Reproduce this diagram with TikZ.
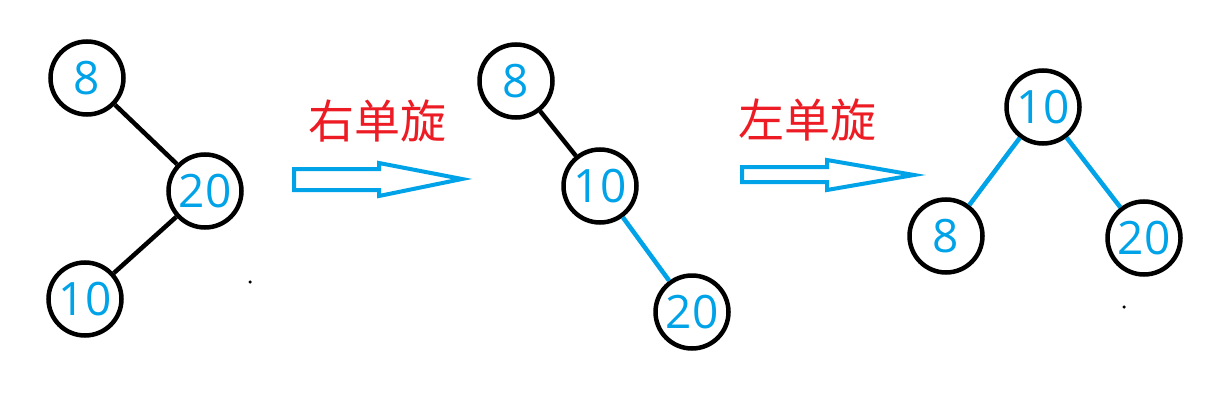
\documentclass[tikz,border=0pt]{standalone}
\usepackage{fontspec}
\setmainfont{Open Sans}
\newfontfamily\cjkfont{Noto Sans CJK SC}
\definecolor{pblue}{HTML}{00A2E8}
\definecolor{pred}{HTML}{ED1C24}
\begin{document}
\begin{tikzpicture}[x=1pt,y=-1pt,
  tnode/.style={circle,draw=black,line width=4.5pt,minimum size=73pt,inner sep=0pt,
    font=\fontsize{46}{46}\selectfont,text=pblue},
  blk/.style={draw=black,line width=4.5pt},
  blu/.style={draw=pblue,line width=4.5pt},
  hollowarrow/.style={draw=pblue,line width=4pt,fill=white,line join=miter},
  lbl/.style={font=\cjkfont\fontsize{46}{46}\selectfont,text=pred,inner sep=0pt},
  speck/.style={fill=black,circle,inner sep=0pt,minimum size=3.5pt}]
\useasboundingbox (0,0) rectangle (1212,420);
\fill[white] (0,0) rectangle (1212,420);
% tree 1
\node[tnode] (a8) at (87,78) {8};
\node[tnode] (a20) at (205,191) {20};
\node[tnode] (a10) at (85,299) {10};
\draw[blk] (a8) -- (a20);
\draw[blk] (a20) -- (a10);
\node[speck] (d1) at (250,282) {};
% arrow 1
\node[lbl] (l1) at (377,121) {右单旋};
\draw[hollowarrow] (294,169) -- (379,169) -- (379,163) -- (462,179) -- (379,196) -- (379,190) -- (294,190) -- cycle;
% tree 2
\node[tnode] (b8) at (516,81) {8};
\node[tnode] (b10) at (600,186) {10};
\node[tnode] (b20) at (692,312) {20};
\draw[blk] (b8) -- (b10);
\draw[blu] (b10) -- (b20);
% arrow 2
\node[lbl] (l2) at (807,120) {左单旋};
\draw[hollowarrow] (742,167) -- (827,167) -- (827,160) -- (914,175) -- (827,190) -- (827,182) -- (742,182) -- cycle;
% tree 3
\node[tnode] (c10) at (1043,107) {10};
\node[tnode] (c8) at (946,236) {8};
\node[tnode] (c20) at (1144,238) {20};
\draw[blu] (c10) -- (c8);
\draw[blu] (c10) -- (c20);
\node[speck] (d2) at (1124,307) {};
\end{tikzpicture}
\end{document}
